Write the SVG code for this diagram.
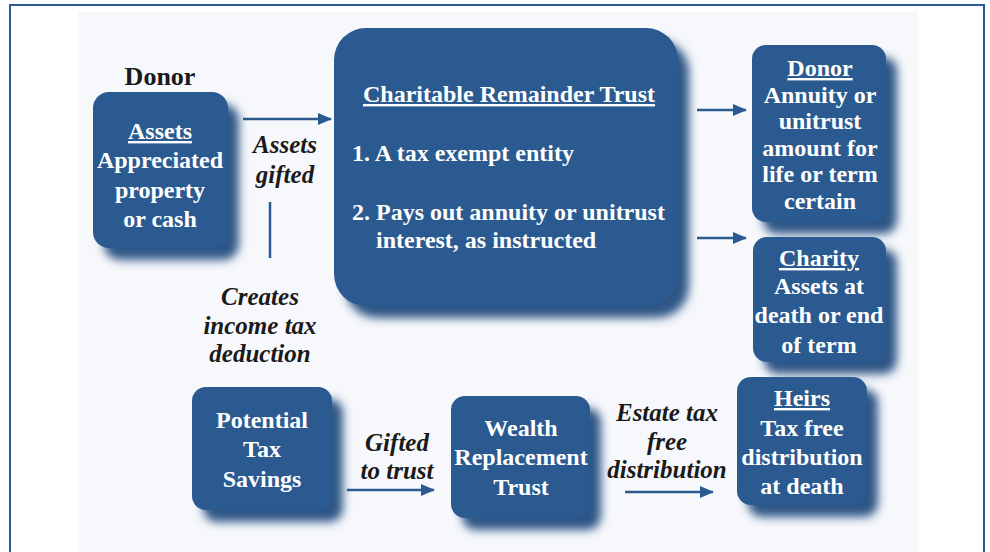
<svg xmlns="http://www.w3.org/2000/svg" width="990" height="552" viewBox="0 0 990 552">
<defs>
<filter id="sh" x="-20%" y="-20%" width="150%" height="150%">
<feDropShadow dx="11" dy="12" stdDeviation="5" flood-color="#244d80" flood-opacity="0.95"/>
</filter>
<marker id="ah" viewBox="0 0 14 12" refX="13" refY="6" markerWidth="14" markerHeight="12" markerUnits="userSpaceOnUse" orient="auto">
<path d="M0,0 L14,6 L0,12 Z" fill="#2b5a90"/>
</marker>
<style>
.box{fill:#2b5a90;filter:url(#sh)}
.bt{font-family:"Liberation Serif",serif;font-weight:bold;font-size:24px;fill:#ffffff;text-anchor:middle}
.lb{font-family:"Liberation Serif",serif;font-weight:bold;font-style:italic;font-size:25px;fill:#1a1a1a;text-anchor:middle}
.ul{text-decoration:underline}
.cn{stroke:#2b5a90;stroke-width:2.5;fill:none}
</style>
</defs>
<rect x="0" y="0" width="990" height="552" fill="#ffffff"/>
<rect x="78" y="12" width="840" height="540" fill="#f7f8fc"/>
<path d="M10,552 V5 H984 V552" fill="none" stroke="#2a5a94" stroke-width="2"/>

<g id="connectors">
<line class="cn" x1="243" y1="119" x2="331" y2="119" marker-end="url(#ah)"/>
<line class="cn" x1="270" y1="202" x2="270" y2="258"/>
<line class="cn" x1="697" y1="110" x2="746" y2="110" marker-end="url(#ah)"/>
<line class="cn" x1="697" y1="238" x2="746" y2="238" marker-end="url(#ah)"/>
<line class="cn" x1="347" y1="490" x2="434" y2="490" marker-end="url(#ah)"/>
<line class="cn" x1="625" y1="492" x2="713" y2="492" marker-end="url(#ah)"/>
<text class="lb"><tspan x="285" y="153">Assets</tspan><tspan x="285" y="183">gifted</tspan></text>
<text class="lb"><tspan x="260" y="305">Creates</tspan><tspan x="260" y="334">income tax</tspan><tspan x="260" y="362">deduction</tspan></text>
<text class="lb"><tspan x="397" y="451">Gifted</tspan><tspan x="397" y="479">to trust</tspan></text>
<text class="lb"><tspan x="667" y="421">Estate tax</tspan><tspan x="667" y="450">free</tspan><tspan x="667" y="478">distribution</tspan></text>
</g>

<g id="donor-assets">
<text x="160" y="85" font-family="Liberation Serif, serif" font-weight="bold" font-size="26" fill="#1a1a1a" text-anchor="middle">Donor</text>
<rect class="box" x="93" y="92" width="135" height="156" rx="16"/>
<text class="bt"><tspan x="160" y="139" class="ul">Assets</tspan><tspan x="160" y="168">Appreciated</tspan><tspan x="160" y="198">property</tspan><tspan x="160" y="227">or cash</tspan></text>
</g>

<g id="crt">
<rect class="box" x="334" y="28" width="344" height="278" rx="32"/>
<text class="bt" x="509" y="102"><tspan class="ul">Charitable Remainder Trust</tspan></text>
<text class="bt" style="text-anchor:start"><tspan x="352" y="161">1. A tax exempt entity</tspan><tspan x="352" y="220">2. Pays out annuity or unitrust</tspan><tspan x="376" y="248">interest, as instructed</tspan></text>
</g>

<g id="donor-annuity">
<rect class="box" x="752" y="45" width="134" height="177" rx="14"/>
<text class="bt"><tspan x="820" y="76" class="ul">Donor</tspan><tspan x="820" y="103">Annuity or</tspan><tspan x="820" y="129">unitrust</tspan><tspan x="820" y="156">amount for</tspan><tspan x="820" y="182">life or term</tspan><tspan x="820" y="209">certain</tspan></text>
</g>

<g id="charity">
<rect class="box" x="753" y="237" width="133" height="125" rx="14"/>
<text class="bt"><tspan x="819" y="266" class="ul">Charity</tspan><tspan x="819" y="294">Assets at</tspan><tspan x="819" y="323">death or end</tspan><tspan x="819" y="353">of term</tspan></text>
</g>

<g id="tax-savings">
<rect class="box" x="192" y="387" width="140" height="123" rx="14"/>
<text class="bt"><tspan x="262" y="428">Potential</tspan><tspan x="262" y="457">Tax</tspan><tspan x="262" y="487">Savings</tspan></text>
</g>

<g id="wrt">
<rect class="box" x="451" y="396" width="139" height="122" rx="14"/>
<text class="bt"><tspan x="521" y="436">Wealth</tspan><tspan x="521" y="465">Replacement</tspan><tspan x="521" y="495">Trust</tspan></text>
</g>

<g id="heirs">
<rect class="box" x="737" y="377" width="130" height="128" rx="14"/>
<text class="bt"><tspan x="802" y="406" class="ul">Heirs</tspan><tspan x="802" y="436">Tax free</tspan><tspan x="802" y="465">distribution</tspan><tspan x="802" y="494">at death</tspan></text>
</g>
</svg>
